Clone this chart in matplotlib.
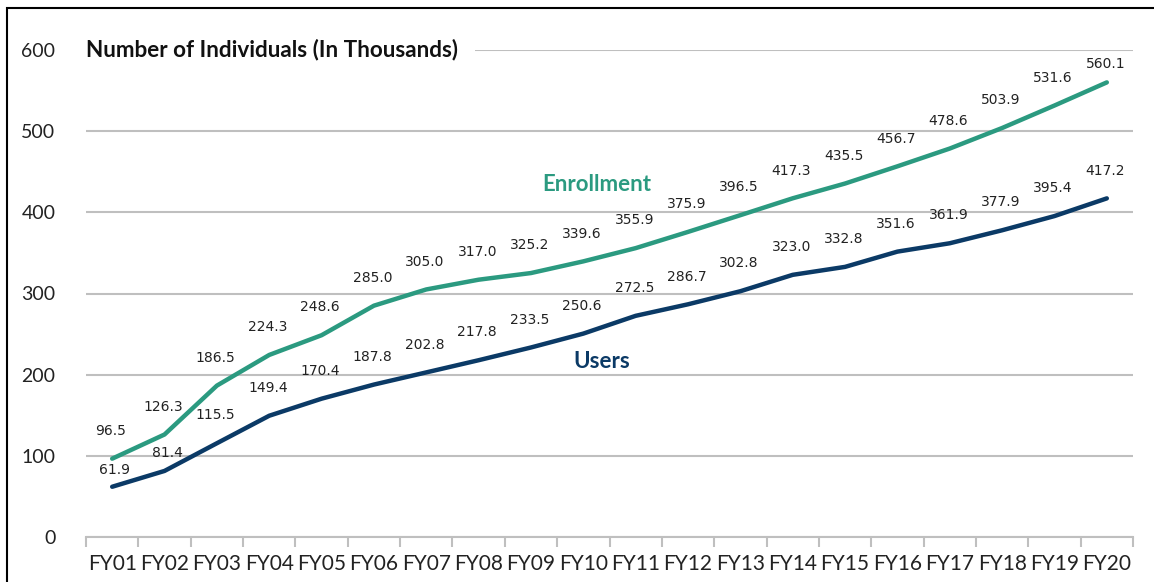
import matplotlib
matplotlib.use("Agg")
import matplotlib.pyplot as plt
from matplotlib.patches import Rectangle

years = ["FY01", "FY02", "FY03", "FY04", "FY05", "FY06", "FY07", "FY08", "FY09", "FY10",
         "FY11", "FY12", "FY13", "FY14", "FY15", "FY16", "FY17", "FY18", "FY19", "FY20"]
enrollment = [96.5, 126.3, 186.5, 224.3, 248.6, 285.0, 305.0, 317.0, 325.2, 339.6,
              355.9, 375.9, 396.5, 417.3, 435.5, 456.7, 478.6, 503.9, 531.6, 560.1]
users = [61.9, 81.4, 115.5, 149.4, 170.4, 187.8, 202.8, 217.8, 233.5, 250.6,
         272.5, 286.7, 302.8, 323.0, 332.8, 351.6, 361.9, 377.9, 395.4, 417.2]

TEAL = "#2B9A80"
NAVY = "#0B3A66"
GRID = "#BFBFBF"

fig = plt.figure(figsize=(11.54, 5.82), dpi=100)
ax = fig.add_axes([86 / 1154, 45 / 582, 1047 / 1154, 487 / 582])

# outer border (left and top visible in the reference)
fig.patches.append(Rectangle((7 / 1154, -0.1), 1.2, (582 - 8) / 582 + 0.1,
                             transform=fig.transFigure, fill=False,
                             edgecolor="black", linewidth=1.5))

x = list(range(len(years)))
ax.plot(x, enrollment, color=TEAL, linewidth=3.2, solid_capstyle="round", zorder=3)
ax.plot(x, users, color=NAVY, linewidth=3.2, solid_capstyle="round", zorder=3)

# label offsets (points above the marker); a few were nudged in the original
enr_off = {19: 13}
usr_off = {0: 12, 1: 13}
for i, v in enumerate(enrollment):
    ax.annotate(f"{v:.1f}", (i, v), xytext=(-1, enr_off.get(i, 20)), textcoords="offset points",
                ha="center", va="center", fontsize=10, color="#222222")
for i, v in enumerate(users):
    ax.annotate(f"{v:.1f}", (i, v), xytext=(2 if i < 2 else -1, usr_off.get(i, 20)),
                textcoords="offset points",
                ha="center", va="center", fontsize=10, color="#222222")

ax.set_xlim(-0.5, len(years) - 0.5)
ax.set_ylim(0, 600)
ax.set_yticks(range(0, 601, 100))
ax.set_xticks(x)
ax.set_xticklabels(years, fontsize=15, family="Lato", color="#222222")
ax.set_xticks([i - 0.5 for i in range(len(years) + 1)], minor=True)
ax.tick_params(axis="x", which="major", length=0, pad=12)
ax.tick_params(axis="x", which="minor", length=7, width=1.5, color=GRID)
ax.tick_params(axis="y", length=0, pad=22, labelsize=14, labelcolor="#222222")
for lbl in ax.get_yticklabels():
    lbl.set_family("Lato")

ax.grid(axis="y", color=GRID, linewidth=1.5)
ax.set_axisbelow(True)
for s in ["top", "right", "left"]:
    ax.spines[s].set_visible(False)
ax.spines["bottom"].set_color(GRID)
ax.spines["bottom"].set_linewidth(1.5)

ax.text(-0.5, 600, "Number of Individuals (In Thousands)", fontsize=16.2,
        fontweight="bold", family="Lato", va="center", ha="left", color="#111111",
        bbox=dict(facecolor="white", edgecolor="none", pad=12), zorder=4)
ax.text(9.25, 434, "Enrollment", color=TEAL, fontsize=16, fontweight="bold",
        family="Lato", ha="center", va="center")
ax.text(9.35, 216, "Users", color=NAVY, fontsize=16, fontweight="bold",
        family="Lato", ha="center", va="center")

fig.savefig("out.png", dpi=100)
